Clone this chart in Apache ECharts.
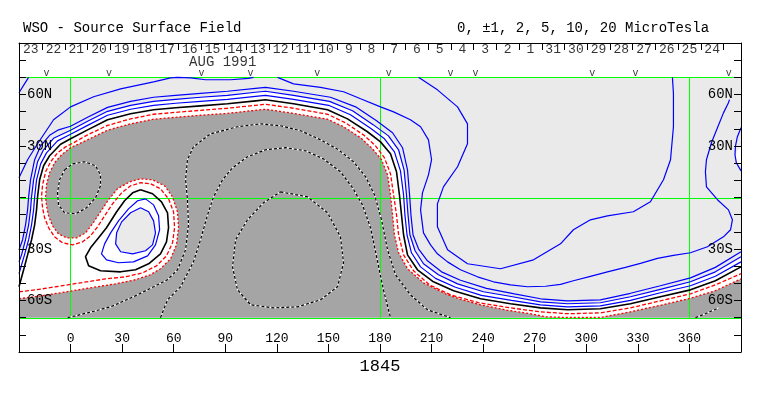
<!DOCTYPE html>
<html><head><meta charset="utf-8">
<script src="https://cdn.jsdelivr.net/npm/echarts@6/dist/echarts.min.js"></script>
<style>html,body{margin:0;padding:0;background:#fff}#c{width:763px;height:396px}</style>
</head><body><div id="c"></div>
<script>
// ---- axis / label data ----
const dayLabels = ['23','22','21','20','19','18','17','16','15','14','13','12','11','10','9','8','7','6','5','4','3','2','1','31','30','29','28','27','26','25','24'];
const dayStartLon = -29.7;   // Carrington longitude of the first day boundary
const dayWidthDeg = 13.21;   // degrees of longitude per day
const obsLon = [-14.0, 22.3, 76.2, 104.7, 143.5, 185.1, 221.0, 235.5, 303.4, 328.6, 382.9];
const latLabelValues = [60, 30, -30, -60];
const latLabelTexts = ['60N', '30N', '30S', '60S'];
const guideLon = [0, 180, 360];
const guideLat = [0, 70, -70];
const monthLabel = 'AUG 1991', monthLon = 88.5;
const rotationNumber = '1845';

// ---- contours [lon, lat] ----
const contourZero = [[-30,-52],[-27.3,-42.1],[-25,-33.4],[-22.7,-24.6],[-20.9,-15.9],[-19.8,-7.2],[-19.2,0.4],[-18,10.3],[-15.7,18.5],[-12.2,24.3],[-5.8,31],[0,34.2],[9.9,39.4],[21.5,45.3],[34.9,48.8],[48.3,51.1],[61.1,52.3],[75.6,53.4],[91.3,54.6],[107.6,56.3],[113.4,56.9],[129.7,54.6],[149.5,51.1],[161.1,45.8],[172.7,38.3],[180.3,32.4],[186.1,25.5],[189.6,15],[191.3,1.6],[192.5,-10.1],[193.7,-21.7],[196,-33.4],[201.8,-42.1],[211.1,-49.1],[222.8,-54.3],[238.5,-59],[255.9,-61.9],[273.4,-64.3],[289.1,-65.4],[308.2,-64.8],[325.7,-61.9],[343.1,-57.8],[360.6,-53.8],[375.1,-48.5],[390,-40.4]];
const contourPos1 = [[-30,-44.4],[-28.5,-39.2],[-26.8,-33.4],[-24.4,-24.6],[-22.7,-15.9],[-21.5,-7.2],[-20.9,0.4],[-19.8,10.3],[-17.4,19.6],[-14,26],[-7.6,33],[0,36.8],[9.9,42],[21.5,47.9],[34.9,51.4],[48.3,53.7],[61.1,54.9],[75.6,56],[91.3,57.2],[107.6,58.9],[113.4,59.5],[129.7,57.2],[150.1,53.7],[162.8,48.2],[174.5,40.3],[182.6,34.2],[188.4,26.6],[191.9,15.5],[193.7,1.6],[194.5,-10.1],[195.7,-21.7],[198.3,-32.2],[203.6,-40.4],[212.3,-47.1],[223.9,-52.3],[239,-57],[256.5,-59.9],[273.4,-62.5],[289.1,-63.7],[308.2,-63.1],[325.7,-59.9],[343.1,-55.5],[360.6,-51.4],[375.1,-45.9],[390,-37.5]];
const contourPos2 = [[-30,-37.5],[-28.5,-33.4],[-26.2,-24.6],[-24.4,-15.9],[-23.3,-7.2],[-22.7,0.4],[-21.5,10.3],[-19.2,20.8],[-15.7,27.8],[-9.9,34.5],[0,39.2],[9.9,44.4],[21.5,50.2],[34.9,53.7],[48.3,56],[61.1,57.2],[75.6,58.4],[91.3,59.5],[107.6,61.3],[113.4,61.9],[129.7,59.5],[150.6,56],[164,50.5],[176.2,42.3],[184.9,35.9],[190.8,27.8],[194,16.1],[195.4,1.6],[196.3,-10.1],[197.4,-21.7],[200.4,-31],[205.3,-38.6],[214,-45],[225.1,-50.3],[240.2,-54.9],[257.1,-57.8],[273.4,-60.8],[289.1,-61.9],[308.2,-61.3],[325.7,-57.8],[343.1,-53.5],[360.6,-49.1],[375.1,-43.3],[390,-34.5]];
const contourPos5 = [[-30,-30.5],[-27.9,-24.6],[-26.2,-15.9],[-25,-7.2],[-24.4,0.4],[-23.3,10.3],[-20.9,22],[-17.4,30.1],[-12.2,36.2],[-7,39.4],[0,41.5],[9.9,46.7],[21.5,52.5],[34.9,56],[48.3,58.4],[61.1,59.5],[75.6,60.7],[91.3,61.9],[107.6,63.6],[113.4,64.2],[129.7,61.9],[151.2,58.4],[165.8,52.8],[178,44.7],[187.3,37.7],[193.1,29],[196,16.1],[197.2,1.6],[198,-10.1],[199.2,-21.7],[202.4,-29.9],[207.6,-36.9],[215.8,-43.3],[226.8,-48.2],[241.9,-52.9],[258.2,-56.1],[273.4,-59],[289.1,-60.2],[308.2,-59.6],[325.7,-55.8],[343.1,-51.4],[360.6,-46.8],[375.1,-40.7],[390,-31.6]];
const contourPos10a = [[-30,11.5],[-25,22],[-19.2,31.3],[-9.9,45.3],[0,52.8],[13.4,58.7],[29.1,63.3],[48.3,67.4],[58.2,69.7],[62.2,70],[69.8,69.7],[78.5,68.6],[93.1,68.6],[103.5,69.4],[106.4,70]];
const contourPos10b = [[120.4,70],[129.7,66.2],[145.4,64.2],[158.8,61.6],[168.7,57.5],[180.3,52.8],[187.9,49.9],[197.7,45.3],[203.6,41.2],[208.2,33.6],[210,22],[208.2,13.2],[204.7,2.7],[203.6,-7.2],[205.3,-20.6],[209.4,-27.6],[213.4,-32.8],[219.3,-37.5],[226.8,-42.1],[236.7,-46.2],[246,-49.1],[255.9,-50.9],[265.8,-52],[276.3,-51.7],[285,-50.6],[292.5,-48.5],[302.4,-45.9],[312.3,-43.3],[322.8,-40.7],[331.5,-38.4],[341.4,-35.5],[350.7,-33.7],[360.6,-32.2],[370.5,-28.7],[375.1,-25.8],[379.8,-22.9],[383.9,-18.8],[385,-13],[382.7,-7.2],[376.3,-1.3],[369.9,6.2],[369.3,15],[369.9,22],[372.8,31.9],[376.3,40.6],[379.8,49.3],[382.7,55.2],[383.3,57]];
const contourPos20 = [[202.4,70],[213.4,62.7],[225.1,52.8],[230.9,42.9],[230.9,31.3],[225.1,17.9],[216.9,6.2],[213.4,-3.7],[213.4,-17.1],[219.3,-30.5],[230.9,-38.6],[250.1,-41.5],[269.3,-36.3],[285,-27],[292.5,-18.8],[302.4,-13],[312.3,-10.7],[327.4,-8.3],[337.3,-2.5],[344.9,10.3],[349,22],[350.7,41.2],[350.7,60.4],[350.1,70]];
const contourPos20Corner = [[-24.4,70],[-26.8,66.2],[-30,61]];
const contourPos2Edge = [[390,40.6],[387.9,35.4],[386.8,30.1],[386.5,24.9],[387.3,20.2],[390,15.5]];
const weakSpotEdge = [[390,29.5],[387.6,27],[386.8,23],[387.6,19.5],[390,18.5]];
const contourNeg1 = [[-30,-54.9],[-20.4,-53.8],[-8.7,-52],[5.8,-49.7],[20.4,-47.4],[32,-46.2],[41.9,-43.9],[50,-39.8],[55.8,-34],[59.3,-26.4],[60.5,-17.6],[59.9,-8.3],[57,-0.8],[52.3,5.1],[46.5,8],[40.7,8.6],[34.9,6.8],[29.7,2.7],[24.4,-3.7],[19.8,-10.7],[15.7,-17.1],[11.6,-22.3],[7,-25.8],[1.2,-27.6],[-4.7,-26.4],[-9.3,-22.9],[-12.8,-17.6],[-15.1,-11.8],[-16.3,-6],[-16.9,0.4],[-16.3,7.4],[-14.5,15],[-11.6,20.8],[-7.6,26],[-2.9,29.5],[1.2,31.6],[9.9,36.5],[21.5,42],[34.9,45.8],[48.3,48.5],[61.1,49.6],[75.6,50.8],[91.3,52],[107.6,53.7],[113.4,54.3],[129.7,52],[149.5,48.5],[159.9,43.5],[170.4,36.5],[177.4,30.1],[182.6,23.1],[186.1,13.8],[187.9,1.6],[189.6,-10.1],[190.8,-21.7],[193.7,-33.4],[199.5,-42.7],[208.8,-50.9],[221,-56.7],[237.3,-61.3],[255.9,-64.3],[273.4,-66.6],[289.1,-67.7],[308.2,-67.2],[325.7,-64.3],[343.1,-60.2],[360.6,-56.1],[375.1,-50.9],[390,-44.4]];
const contourNeg2 = [[-30,-59],[-17.4,-57.3],[-5.8,-55.5],[11.6,-52.6],[26.2,-50.3],[37.8,-47.9],[46.5,-45],[52.3,-41.5],[58.2,-35.7],[61.6,-27.6],[62.8,-17.6],[62.2,-8.3],[59.3,0.4],[54.7,6.8],[47.7,10.3],[40.7,10.9],[34.3,9.1],[27.3,5.1],[22.1,-1.3],[17.4,-8.3],[12.8,-15.3],[8.7,-20.6],[3.5,-23.5],[-2.3,-23.5],[-7,-21.2],[-10.5,-16.5],[-12.8,-10.7],[-14,-4.8],[-14.5,0.4],[-14,7.4],[-12.2,14.4],[-9.3,20.2],[-5.2,24.9],[0,29],[9.9,33.6],[21.5,39.2],[34.9,42.9],[48.3,45.6],[61.1,46.7],[75.6,47.9],[91.3,49],[107.6,50.8],[113.4,51.4],[129.7,49],[149.5,45.6],[158.8,41.2],[168.7,34.8],[175.6,28.4],[180.9,22],[184.4,13.2],[186.1,1.6],[187.3,-10.1],[188.4,-21.7],[190.8,-32.2],[196,-41.5],[205.3,-49.7],[218.1,-56.1],[226.8,-59.3],[238.5,-62.5],[254.2,-65.7],[267.5,-67.7],[276.3,-69.5],[289.1,-69.9],[308.2,-69.9],[325.7,-66.6],[343.1,-62.8],[360.6,-58.7],[375.1,-54.3],[390,-47.4]];
const contourNeg5Lobe = [[-3.5,16.1],[1.2,19.6],[8.1,20.8],[14.5,18.5],[17.4,13.2],[17.4,6.8],[14.5,-0.2],[9.3,-6],[2.9,-9.5],[-3.5,-8.9],[-7,-4.3],[-7.6,2.7],[-6.4,10.3],[-3.5,16.1]];
const contourNeg5 = [[-1.7,-70],[9.9,-67.2],[23.3,-63.7],[36.6,-57.8],[48.3,-52],[56.4,-47.9],[62.2,-42.1],[66.9,-30.5],[68.6,-15.9],[68,-1.3],[66.9,10.3],[68,22],[71.5,29.5],[81.4,37.1],[97.1,41.2],[110.5,42.9],[122.1,41.8],[133.8,38.9],[145.4,33.6],[155.9,27.8],[164.6,20.8],[171.6,12.1],[176.8,1.6],[180.9,-13],[184.4,-30.5],[189,-45],[197.7,-56.7],[207.6,-65.4],[221,-70]];
const contourNeg5Corner = [[363.5,-70],[369.3,-67.7],[376.9,-64.3]];
const contourNeg10 = [[52.3,-70],[56.4,-59.6],[64,-52],[71.5,-37.5],[75.6,-24.6],[79.7,-10.1],[83.2,0.4],[88.4,10.3],[94.2,17.3],[102.9,23.7],[113.4,27.8],[125,29],[136.7,27.2],[147.1,22.5],[157,15],[164,5.7],[169.8,-4.3],[174.5,-17.6],[178,-34.5],[182,-53.8],[186.1,-70]];
const contourNeg20 = [[122.1,3.3],[137.8,0.4],[149.5,-8.9],[157,-22.9],[158.8,-38],[155.3,-52],[145.4,-59.6],[132,-63.7],[118.1,-64.3],[104.7,-62.5],[97.1,-53.8],[94.2,-40.4],[96,-24.6],[102.9,-13],[112.2,-3.1],[122.1,3.3]];
const islandZero = [[40.7,4.5],[47.7,2.2],[52.9,-2.5],[56.4,-8.9],[57,-17.6],[55.8,-25.8],[52.3,-32.8],[45.4,-38.6],[37.8,-42.1],[29.1,-43.3],[17.4,-42.7],[10.5,-39.8],[8.7,-34.5],[11.6,-29.3],[16.3,-23.5],[20.9,-17.6],[26.8,-8.3],[31.4,-1.9],[36.1,2.7],[40.7,4.5]];
const islandPos1 = [[43.6,-0.8],[48.3,-4.3],[51.2,-10.7],[51.8,-18.8],[49.4,-27.6],[44.8,-34],[36.6,-37.5],[27.9,-38],[20.9,-36.3],[18,-32.8],[19.8,-27],[23.3,-20.6],[27.9,-13.6],[33.7,-6.6],[39,-1.9],[43.6,-0.8]];
const islandPos2 = [[40.7,-6],[45.4,-8.3],[48.3,-13.6],[49.4,-20.6],[47.7,-27.6],[43.6,-31],[36.1,-32.8],[29.1,-31.6],[26.2,-27],[26.8,-20.6],[29.7,-14.2],[34.9,-8.9],[40.7,-6]];

// ---- styling ----
const FONT = "'Liberation Mono', 'DejaVu Sans Mono', monospace";
const LIGHT = '#eaeaea', DARK = '#a5a5a5', BLUE = '#0000ff', RED = '#ff0000', GREEN = '#00ff00';
const LON_MIN = -30, LON_MAX = 390, LAT_MIN = -90, LAT_MAX = 90, PLOT_LAT = 70;

const dayBoundaries = dayLabels.map((d, i) => dayStartLon + dayWidthDeg * (i + 1));
const dayCenters = dayLabels.map((d, i) => dayStartLon + dayWidthDeg * (i + 0.5));

function polygon(points, color, z) {
  return {
    type: 'custom', coordinateSystem: 'cartesian2d', silent: true, animation: false, z: z,
    data: [[points[0][0], points[0][1]]], encode: { x: 0, y: 1 }, clip: false,
    renderItem: function (params, api) {
      return { type: 'polygon', shape: { points: points.map(p => api.coord(p)) }, style: { fill: color, stroke: null } };
    }
  };
}
// straight guide lines (lon = const or lat = const), snapped to the pixel grid
function guides(z) {
  const snapV = v => Math.floor(v) + 0.5;
  const snapH = v => Math.round(v) + 0.5;
  const segs = guideLon.map(l => [[l, -PLOT_LAT], [l, PLOT_LAT]])
    .concat(guideLat.map(b => [[LON_MIN, b], [LON_MAX, b]]));
  return {
    type: 'custom', coordinateSystem: 'cartesian2d', silent: true, animation: false, z: z, clip: false,
    data: segs.map((s, i) => [s[0][0], s[0][1], i]), encode: { x: 0, y: 1 },
    renderItem: function (params, api) {
      const s = segs[params.dataIndex];
      const a = api.coord(s[0]), b = api.coord(s[1]);
      const vertical = s[0][0] === s[1][0];
      const x1 = vertical ? snapV(a[0]) : a[0], x2 = vertical ? snapV(b[0]) : b[0];
      const y1 = vertical ? a[1] : snapH(a[1]), y2 = vertical ? b[1] : snapH(b[1]);
      return { type: 'line', shape: { x1: x1, y1: y1, x2: x2, y2: y2 }, style: { stroke: GREEN, lineWidth: 1 } };
    }
  };
}
function line(data, color, width, type, z) {
  return { type: 'line', data: data, symbol: 'none', showSymbol: false, silent: true, animation: false, z: z || 4, clip: false,
    lineStyle: { color: color, width: width, type: type || 'solid', cap: 'butt' } };
}
function dashedDark(data) {
  return [line(data, '#ffffff', 1.2, 'solid', 4), line(data, '#000000', 1.2, [3, 2], 5)];
}
function textSeries(data, formatter, size, z) {
  return { type: 'scatter', data: data, symbolSize: 1, silent: true, animation: false, z: z || 6,
    itemStyle: { color: 'rgba(0,0,0,0)' },
    label: { show: true, position: 'inside', formatter: formatter, fontFamily: FONT, fontSize: size, color: '#000' } };
}

const series = [];
series.push(polygon(contourPos2.concat([[LON_MAX, PLOT_LAT], [LON_MIN, PLOT_LAT]]), LIGHT, 1));
series.push(polygon(contourNeg2.concat([[LON_MAX, -PLOT_LAT], [LON_MIN, -PLOT_LAT]]), DARK, 1));
series.push(polygon(islandPos2, LIGHT, 1));
series.push(polygon(weakSpotEdge, '#ffffff', 1));
series.push(guides(2));
[contourPos1, contourPos2, contourPos5, contourPos10a, contourPos10b, contourPos20, contourPos20Corner, contourPos2Edge, islandPos1, islandPos2]
  .forEach(d => series.push(line(d, BLUE, 1.2)));
series.push(line(contourNeg1, RED, 1.3, [4, 2]));
series.push(line(contourNeg2, RED, 1.3, [2, 2]));
[contourNeg5Lobe, contourNeg5, contourNeg5Corner, contourNeg10, contourNeg20].forEach(d => dashedDark(d).forEach(s => series.push(s)));
series.push(line(contourZero, '#000', 1.6, 'solid', 5));
series.push(line(islandZero, '#000', 1.6, 'solid', 5));
series.push(textSeries(dayCenters.map(l => [l, 86]), p => dayLabels[p.dataIndex], 13));
series.push(textSeries(obsLon.map(l => [l, 72.3]), () => 'v', 10));
series.push(textSeries([[monthLon, 78.8]], () => monthLabel, 14));

const axisLineStyle = { color: '#000', width: 1 };
const option = {
  animation: false,
  grid: { left: 19, right: 22, top: 43, bottom: 44, containLabel: false },
  xAxis: [
    { type: 'value', position: 'bottom', min: LON_MIN, max: LON_MAX, interval: 30, z: 10,
      axisLine: { show: true, onZero: false, lineStyle: axisLineStyle },
      axisTick: { show: true, inside: true, length: 8, lineStyle: axisLineStyle },
      axisLabel: { inside: true, margin: 7, fontFamily: FONT, fontSize: 13, color: '#000',
        formatter: v => (v >= 0 && v <= 360) ? String(v) : '' },
      splitLine: { show: false } },
    { type: 'value', position: 'top', min: LON_MIN, max: LON_MAX, z: 10,
      axisLine: { show: true, onZero: false, lineStyle: axisLineStyle },
      axisTick: { show: true, inside: true, length: 7, lineStyle: axisLineStyle, customValues: dayBoundaries },
      axisLabel: { show: false },
      splitLine: { show: false } }
  ],
  yAxis: [
    { type: 'value', position: 'left', min: LAT_MIN, max: LAT_MAX, interval: 10, z: 10,
      axisLine: { show: true, onZero: false, lineStyle: axisLineStyle },
      axisTick: { show: true, inside: true, length: 7, lineStyle: axisLineStyle },
      axisLabel: { inside: true, margin: 8, fontFamily: FONT, fontSize: 14, color: '#000',
        formatter: v => { const i = latLabelValues.indexOf(v); return i >= 0 ? latLabelTexts[i] : ''; } },
      splitLine: { show: false } },
    { type: 'value', position: 'right', min: LAT_MIN, max: LAT_MAX, interval: 10, z: 10,
      axisLine: { show: true, onZero: false, lineStyle: axisLineStyle },
      axisTick: { show: true, inside: true, length: 7, lineStyle: axisLineStyle },
      axisLabel: { inside: true, margin: 8, fontFamily: FONT, fontSize: 14, color: '#000',
        formatter: v => { const i = latLabelValues.indexOf(v); return i >= 0 ? latLabelTexts[i] : ''; } },
      splitLine: { show: false } }
  ],
  graphic: [
    { type: 'text', x: 23, y: 28, style: { text: 'WSO - Source Surface Field', font: '14px ' + FONT, fill: '#000', align: 'left', verticalAlign: 'middle' } },
    { type: 'text', x: 457, y: 28, style: { text: '0, \u00b11, 2, 5, 10, 20 MicroTesla', font: '14px ' + FONT, fill: '#000', align: 'left', verticalAlign: 'middle' } },
    { type: 'text', x: 380, y: 366, style: { text: rotationNumber, font: '17px ' + FONT, fill: '#000', align: 'center', verticalAlign: 'middle' } }
  ],
  series: series
};
const chart = echarts.init(document.getElementById('c'), null, { renderer: 'canvas' });
chart.setOption(option);
</script></body></html>
